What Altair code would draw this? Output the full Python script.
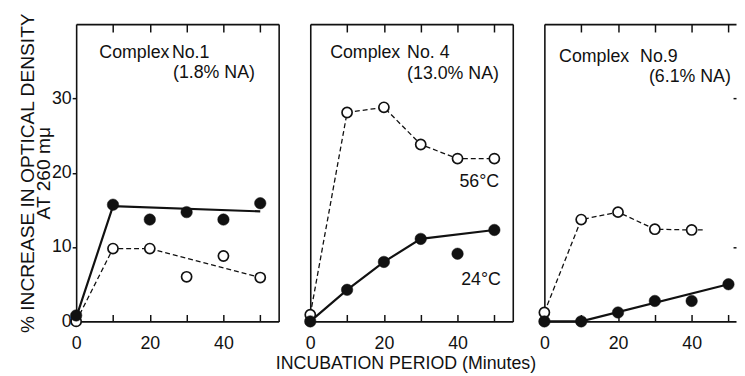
import altair as alt
import pandas as pd

FONT = "Liberation Sans"
INK = "#111111"

minutes = [0, 10, 20, 30, 40, 50]

# Complex No.1
c1_filled = [0.8, 15.7, 13.7, 14.7, 13.7, 15.9]
c1_open = [0.0, 9.8, 9.8, 6.0, 8.8, 5.9]
c1_filled_fit_x = [0, 10, 50]
c1_filled_fit_y = [0.5, 15.5, 14.8]
c1_open_fit_x = [0, 10, 20, 50]
c1_open_fit_y = [0.0, 9.8, 9.8, 5.9]

# Complex No.4
c4_filled = [0.0, 4.25, 8.0, 11.1, 9.1, 12.3]
c4_open = [0.9, 28.1, 28.8, 23.8, 21.9, 21.9]
c4_filled_fit_x = [0, 10, 20, 30, 50]
c4_filled_fit_y = [0.0, 4.25, 8.0, 11.1, 12.3]
c4_open_fit_x = [0, 10, 20, 30, 40, 50]
c4_open_fit_y = [0.9, 28.1, 28.8, 23.8, 21.9, 21.9]

# Complex No.9
c9_filled = [0.0, 0.0, 1.2, 2.75, 2.75, 5.0]
c9_open_x = [0, 10, 20, 30, 40]
c9_open = [1.2, 13.7, 14.7, 12.4, 12.3]
c9_filled_fit_x = [0, 10, 50]
c9_filled_fit_y = [0.0, 0.0, 5.0]
c9_open_fit_x = [0, 10, 20, 30, 40, 43]
c9_open_fit_y = [1.2, 13.7, 14.7, 12.4, 12.3, 12.3]

# annotations
c1_notes_text = ["Complex", "No.1", "(1.8% NA)"]
c1_notes_x = [6.3, 26.0, 26.3]
c1_notes_y = [36.1, 36.1, 33.4]
c4_notes_text = ["Complex", "No. 4", "(13.0% NA)", "56°C", "24°C"]
c4_notes_x = [5.4, 26.3, 26.3, 40.5, 41.0]
c4_notes_y = [36.1, 36.1, 33.3, 18.7, 5.6]
c9_notes_text = ["Complex", "No.9", "(6.1% NA)"]
c9_notes_x = [4.0, 26.0, 28.4]
c9_notes_y = [35.5, 35.5, 32.9]

x_ticks = [0, 10, 20, 30, 40, 50]
y_labels = [0, 10, 20, 30]
y_title = ["% INCREASE IN OPTICAL DENSITY", "AT 260 mμ"]
x_title = "INCUBATION PERIOD (Minutes)"


def panel(fx, fy, ox, oy, lfx, lfy, lox, loy, nt, nx, ny, xmax, width,
          first=False, last=False):
    xs = alt.Scale(domain=[0, xmax], nice=False, zero=False)
    ys = alt.Scale(domain=[0, 40], nice=False, zero=False)

    filled = pd.DataFrame({"t": fx, "v": fy})
    opn = pd.DataFrame({"t": ox, "v": oy})
    lf = pd.DataFrame({"t": lfx, "v": lfy, "o": list(range(len(lfx)))})
    lo = pd.DataFrame({"t": lox, "v": loy, "o": list(range(len(lox)))})
    notes = pd.DataFrame({"t": nx, "v": ny, "s": nt})

    bottom_axis = alt.Axis(
        orient="bottom", values=[v for v in x_ticks if v <= xmax],
        labelExpr="datum.value % 20 == 0 ? datum.label : ''",
        tickSize=alt.ExprRef(expr="-7"), tickWidth=1.5, tickColor=INK,
        labelPadding=20, labelFlush=False, labelOverlap=False,
        labelFontSize=18, labelFont=FONT, labelColor=INK,
        domainColor=INK, domainWidth=1.6, grid=False, title=None,
    )
    if first:
        left_axis = alt.Axis(
            orient="left", values=y_labels, tickSize=4, tickWidth=1.5,
            tickColor=INK, labelPadding=1, labelFontSize=18, labelFont=FONT,
            labelColor=INK, labelFlush=False, domainColor=INK, domainWidth=1.6,
            grid=False, title=y_title, titleFontSize=19.4, titleFont=FONT,
            titleFontWeight="normal", titleColor=INK,
            titlePadding=alt.ExprRef(expr="-2"),
            titleLineHeight=16,
        )
    else:
        left_axis = alt.Axis(
            orient="left", values=[0], labels=False, ticks=False,
            domainColor=INK, domainWidth=1.6, grid=False, title=None,
        )
    top_axis = alt.Axis(
        orient="top", values=[v for v in x_ticks if 0 < v <= xmax],
        labels=False, tickSize=alt.ExprRef(expr="-8"), tickWidth=1.5,
        tickColor=INK, domainColor=INK, domainWidth=1.8, grid=False, title=None,
    )
    if last:
        right_axis = alt.Axis(
            orient="right", values=[10, 30], labels=False, domain=False,
            tickSize=alt.ExprRef(expr="-3"), tickWidth=1.5, tickColor=INK,
            grid=False, title=None,
        )
    else:
        right_axis = alt.Axis(
            orient="right", values=[0], labels=False, ticks=False,
            domainColor=INK, domainWidth=1.6, grid=False, title=None,
        )

    base_axes = alt.Chart(opn).mark_point(opacity=0).encode(
        x=alt.X("t:Q", scale=xs, axis=bottom_axis),
        y=alt.Y("v:Q", scale=ys, axis=left_axis),
    )
    frame_axes = alt.Chart(opn).mark_point(opacity=0).encode(
        x=alt.X("t:Q", scale=xs, axis=top_axis),
        y=alt.Y("v:Q", scale=ys, axis=right_axis),
    )
    open_line = alt.Chart(lo).mark_line(
        color=INK, strokeWidth=1.3, strokeDash=[5, 3]
    ).encode(
        x=alt.X("t:Q", scale=xs, axis=None),
        y=alt.Y("v:Q", scale=ys, axis=None),
        order="o:Q",
    )
    filled_line = alt.Chart(lf).mark_line(color=INK, strokeWidth=2.2).encode(
        x=alt.X("t:Q", scale=xs, axis=None),
        y=alt.Y("v:Q", scale=ys, axis=None),
        order="o:Q",
    )
    open_pts = alt.Chart(opn).mark_point(
        shape="circle", filled=True, fill="white", stroke=INK,
        strokeWidth=1.7, size=105, opacity=1,
    ).encode(
        x=alt.X("t:Q", scale=xs, axis=None),
        y=alt.Y("v:Q", scale=ys, axis=None),
    )
    filled_pts = alt.Chart(filled).mark_point(
        shape="circle", filled=True, fill=INK, stroke=INK, strokeWidth=0.5,
        size=135, opacity=1,
    ).encode(
        x=alt.X("t:Q", scale=xs, axis=None),
        y=alt.Y("v:Q", scale=ys, axis=None),
    )
    text = alt.Chart(notes).mark_text(
        align="left", baseline="middle", font=FONT, fontSize=18, color=INK,
    ).encode(
        x=alt.X("t:Q", scale=xs, axis=None),
        y=alt.Y("v:Q", scale=ys, axis=None),
        text="s:N",
    )
    return alt.layer(
        base_axes, frame_axes, open_line, filled_line, open_pts, filled_pts, text
    ).resolve_axis(x="independent", y="independent").properties(
        width=width, height=301
    )


p1 = panel(minutes, c1_filled, minutes, c1_open,
           c1_filled_fit_x, c1_filled_fit_y, c1_open_fit_x, c1_open_fit_y,
           c1_notes_text, c1_notes_x, c1_notes_y, 55, 205, first=True)
p2 = panel(minutes, c4_filled, minutes, c4_open,
           c4_filled_fit_x, c4_filled_fit_y, c4_open_fit_x, c4_open_fit_y,
           c4_notes_text, c4_notes_x, c4_notes_y, 55, 205)
p3 = panel(minutes, c9_filled, c9_open_x, c9_open,
           c9_filled_fit_x, c9_filled_fit_y, c9_open_fit_x, c9_open_fit_y,
           c9_notes_text, c9_notes_x, c9_notes_y, 52.05, 194, last=True)

chart = alt.hconcat(p1, p2, p3, spacing=23).properties(
    padding={"left": 9, "top": 2, "right": 0, "bottom": 0},
    background="white",
    title=alt.TitleParams(
        text=x_title, orient="bottom", anchor="middle", fontSize=18,
        font=FONT, fontWeight="normal", color=INK, offset=3, dx=29,
    ),
).configure_view(stroke=None)

chart.save("out.html", embed_options={"renderer": "svg", "actions": False})
